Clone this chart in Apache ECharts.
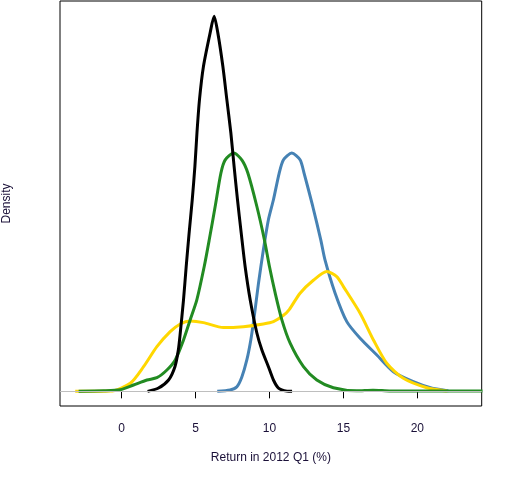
<!DOCTYPE html>
<html>
<head>
<meta charset="utf-8">
<script src="https://cdn.jsdelivr.net/npm/echarts@6/dist/echarts.min.js"></script>
<style>html,body{margin:0;padding:0;background:#fff}#c{width:512px;height:480px}</style>
</head>
<body>
<div id="c"></div>
<script>
var xTicks = [0, 5, 10, 15, 20];

var blueX = [6.47, 7.34, 7.80, 8.14, 8.47, 8.74, 8.97, 9.26, 9.59, 9.93, 10.27, 10.66, 10.95, 11.51, 12.07, 12.34, 12.93, 13.47, 13.76, 14.44, 15.23, 16.13, 17.26, 18.38, 19.73, 21.0, 22.1];
var blueY = [0, 0.0011, 0.0038, 0.012, 0.0257, 0.0421, 0.0612, 0.0886, 0.1159, 0.1405, 0.1569, 0.1788, 0.1897, 0.1952, 0.1897, 0.1788, 0.1514, 0.1241, 0.1074, 0.0804, 0.0571, 0.0435, 0.0298, 0.0161, 0.0079, 0.0025, 0.0004];

var yellowX = [-3.13, -0.76, 0.59, 1.49, 2.39, 3.29, 3.97, 4.64, 5.54, 6.89, 8.24, 9.59, 10.27, 10.95, 11.35, 12.07, 12.97, 13.88, 14.55, 15.0, 16.13, 17.03, 17.93, 19.05, 20.64, 22.0];
var yellowY = [0, 0.0002, 0.0066, 0.0202, 0.0366, 0.0489, 0.0552, 0.0576, 0.0563, 0.0522, 0.053, 0.0552, 0.0571, 0.0623, 0.0672, 0.0804, 0.091, 0.0981, 0.094, 0.0858, 0.064, 0.0421, 0.023, 0.0107, 0.003, 0.0003];

var greenX = [-2.9, -1.22, -0.09, 0.81, 1.72, 2.39, 3.07, 3.63, 4.19, 4.64, 5.09, 5.59, 5.93, 6.33, 6.72, 7.0, 7.59, 8.14, 8.54, 9.15, 9.66, 10.0, 10.39, 10.84, 11.4, 12.3, 13.2, 14.32, 15.9, 17.0, 18.2, 20.0, 24.4];
var greenY = [0, 0.0004, 0.0013, 0.0052, 0.0093, 0.0112, 0.0175, 0.0257, 0.0421, 0.0585, 0.0749, 0.1022, 0.1241, 0.1514, 0.1788, 0.1894, 0.1952, 0.1894, 0.1788, 0.1514, 0.1241, 0.1022, 0.0804, 0.0585, 0.0394, 0.0202, 0.0093, 0.003, 0.0005, 0.001, 0.0003, 0.0003, 0.0002];

var blackX = [1.76, 2.50, 3.18, 3.61, 3.84, 3.97, 4.19, 4.37, 4.57, 4.78, 4.96, 5.10, 5.27, 5.54, 5.99, 6.26, 6.51, 6.85, 7.12, 7.39, 7.61, 7.84, 8.09, 8.36, 8.70, 9.15, 9.49, 9.93, 10.27, 10.61, 11.18, 11.53];
var blackY = [0, 0.0027, 0.0093, 0.0202, 0.0339, 0.0478, 0.0749, 0.1019, 0.1298, 0.1569, 0.1842, 0.2118, 0.2389, 0.2662, 0.2936, 0.3072, 0.2936, 0.2662, 0.2389, 0.2118, 0.1842, 0.1569, 0.1298, 0.1019, 0.0749, 0.0478, 0.0339, 0.0202, 0.0093, 0.0027, 0.0002, 0];

function pairs(xs, ys) { return xs.map(function (x, i) { return [x, ys[i]]; }); }

var FONT = 'Liberation Sans, Arial, sans-serif';
var TXT = '#1a1038';

function line(name, xs, ys, color, extra) {
  var s = {
    name: name, type: 'line', data: pairs(xs, ys), symbol: 'none',
    smooth: 0.25,
    lineStyle: { color: color, width: 3 }, silent: true, animation: false
  };
  if (extra) for (var k in extra) s[k] = extra[k];
  return s;
}

var chart = echarts.init(document.getElementById('c'), null, { renderer: 'canvas' });
chart.setOption({
  animation: false,
  grid: { left: 60, right: 30.3, top: 1, bottom: 74, containLabel: false, outerBoundsMode: 'none',
    show: true, borderColor: '#000', borderWidth: 1, backgroundColor: 'transparent' },
  xAxis: {
    type: 'value', min: -4.16, max: 24.35,
    name: 'Return in 2012 Q1 (%)', nameLocation: 'middle', nameGap: 46,
    nameTextStyle: { fontFamily: FONT, fontSize: 12, color: TXT },
    axisLine: { show: false },
    axisTick: { show: true, length: 7, customValues: xTicks, lineStyle: { color: '#000', width: 1 } },
    axisLabel: { customValues: xTicks, margin: 17, fontFamily: FONT, fontSize: 12, color: TXT },
    splitLine: { show: false }
  },
  yAxis: {
    type: 'value', min: -0.012, max: 0.3197,
    name: 'Density', nameLocation: 'middle', nameGap: 47,
    nameTextStyle: { fontFamily: FONT, fontSize: 12, color: TXT },
    axisLine: { show: false }, axisTick: { show: false }, axisLabel: { show: false }, splitLine: { show: false }
  },
  series: [
    line('blue', blueX, blueY, '#4682B4', {
      markLine: { silent: true, symbol: 'none', label: { show: false }, animation: false,
        lineStyle: { color: '#BEBEBE', width: 1, type: 'solid' }, data: [{ yAxis: 0 }] }
    }),
    line('gold', yellowX, yellowY, '#FFD700'),
    line('green', greenX, greenY, '#228B22'),
    line('black', blackX, blackY, '#000000')
  ]
});
</script>
</body>
</html>
